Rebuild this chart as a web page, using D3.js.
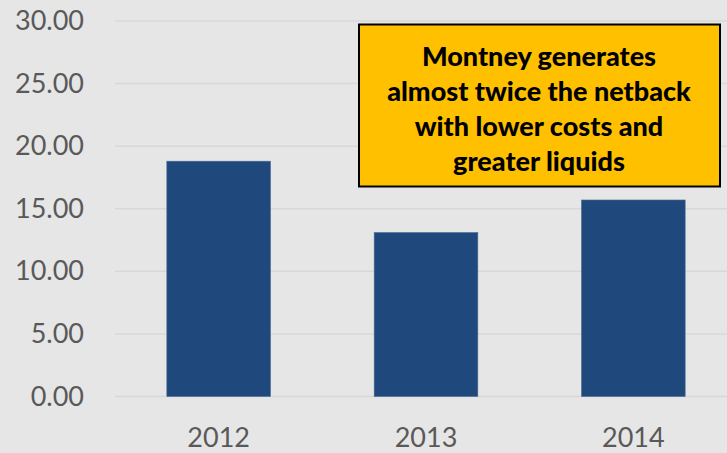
<!DOCTYPE html>
<html><head><meta charset="utf-8">
<script src="https://cdn.jsdelivr.net/npm/d3@7"></script>
<style>html,body{margin:0;padding:0;background:#e6e6e6;overflow:hidden}</style>
</head><body>
<script>
const categories = ["2012", "2013", "2014"];
const values = [18.8, 13.1, 15.7];
const yTicks = [0, 5, 10, 15, 20, 25, 30];
const noteLines = ["Montney generates", "almost twice the netback", "with lower costs and", "greater liquids"];

const W = 727, H = 453;
const svg = d3.select("body").append("svg").attr("width", W).attr("height", H);
svg.append("rect").attr("width", W).attr("height", H).attr("fill", "#e6e6e6");

const x = d3.scaleBand().domain(categories).range([115, 737]).paddingInner(0.5).paddingOuter(0.25);
const y = d3.scaleLinear().domain([0, 30]).range([396.5, 21]);

const font = "Lato, 'Open Sans', sans-serif";

// gridlines
svg.append("g").selectAll("line").data(yTicks).join("line")
  .attr("x1", 115).attr("x2", W)
  .attr("y1", d => y(d)).attr("y2", d => y(d))
  .attr("stroke", "#d8d8d8").attr("stroke-width", 1.5);

// y axis labels
const yAxis = d3.axisLeft(y).tickValues(yTicks).tickFormat(d3.format(".2f")).tickSize(0).tickPadding(0);
const yg = svg.append("g").attr("transform", "translate(84,0)").call(yAxis);
yg.select(".domain").remove();
yg.selectAll("text").attr("font-family", font).attr("font-size", 27).attr("fill", "#595959");

// bars
svg.append("g").selectAll("rect").data(values).join("rect")
  .attr("x", (d, i) => x(categories[i]))
  .attr("width", x.bandwidth())
  .attr("y", d => y(d))
  .attr("height", d => y(0) - y(d))
  .attr("fill", "#1f497d")
  .attr("stroke", "#4a6c96").attr("stroke-width", 0.6);

// x axis labels
const xAxis = d3.axisBottom(x).tickSize(0).tickPadding(0);
const xg = svg.append("g").attr("transform", "translate(0,447)").call(xAxis);
xg.select(".domain").remove();
xg.selectAll("text").attr("font-family", font).attr("font-size", 27).attr("fill", "#595959").attr("dy", 0).attr("y", 0);

// annotation box
const box = svg.append("g");
box.append("rect").attr("x", 359).attr("y", 24.5).attr("width", 361).attr("height", 162)
  .attr("fill", "#ffc000").attr("stroke", "#000").attr("stroke-width", 2);
const lineYs = [55, 90.5, 125.5, 160];
box.selectAll("text").data(noteLines).join("text")
  .attr("x", 539).attr("y", (d, i) => lineYs[i])
  .attr("text-anchor", "middle").attr("dominant-baseline", "central")
  .attr("font-family", font).attr("font-weight", "900").attr("font-size", 27)
  .attr("fill", "#000").text(d => d);
</script>
</body></html>
